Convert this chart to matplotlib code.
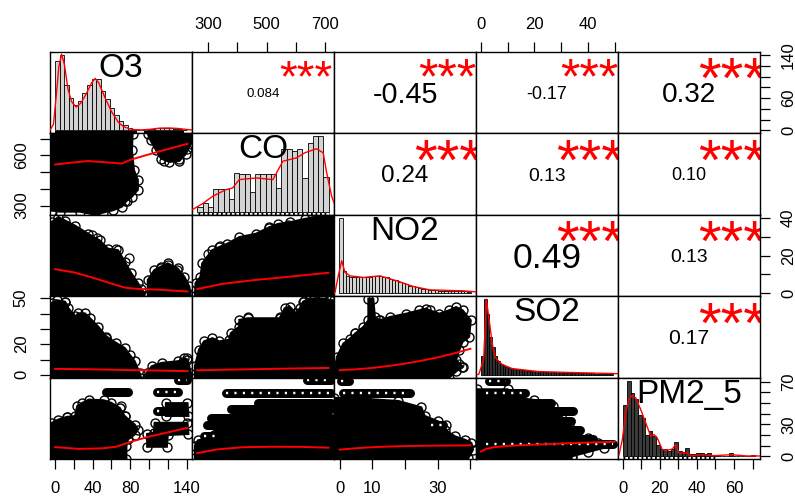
import numpy as np
import matplotlib
matplotlib.use("Agg")
import matplotlib.pyplot as plt
from matplotlib.textpath import TextPath
from matplotlib.font_manager import FontProperties
import matplotlib.transforms as mtransforms

FONT = "Liberation Sans"
plt.rcParams['font.family'] = [FONT, 'DejaVu Sans']

# ---------------- data ----------------
variables = ["O3", "CO", "NO2", "SO2", "PM2_5"]
# pairs axis ranges (data units incl. R padding)
lim_o3 = (-5.5, 145.8)
lim_co = (245, 731)
lim_no2 = (-1.7, 41.7)
lim_so2 = (-1.8, 51.3)
lim_pm = (-2.5, 74.0)

# correlations (upper panels)
corr_rows = [0, 0, 0, 0, 1, 1, 1, 2, 2, 3]
corr_cols = [1, 2, 3, 4, 2, 3, 4, 3, 4, 4]
corr_values = [0.084, -0.45, -0.17, 0.32, 0.24, 0.13, 0.10, 0.49, 0.13, 0.17]
corr_labels = ["0.084", "-0.45", "-0.17", "0.32", "0.24", "0.13", "0.10", "0.49", "0.13", "0.17"]
corr_signif = ["***"] * 10

# histograms (relative density, tallest bar = 1)
o3_hist_start, o3_hist_width = 0, 5
o3_hist = [0.92, 1.00, 0.60, 0.43, 0.34, 0.39, 0.49, 0.60, 0.68, 0.68, 0.52, 0.42, 0.30, 0.20,
           0.12, 0.07, 0.03, 0.01, 0.005, 0.005, 0.01, 0.02, 0.03, 0.035, 0.03, 0.03, 0.025, 0.02, 0.01]
o3_dens_x = [-6, -2, 1, 4, 7, 10, 14, 18, 23, 28, 34, 40, 44, 48, 55, 62, 70, 76, 85, 95, 105, 115, 125, 135, 145, 152]
o3_dens_y = [0.0, 0.08, 0.45, 0.85, 1.01, 0.88, 0.55, 0.38, 0.31, 0.36, 0.48, 0.63, 0.69, 0.63, 0.43, 0.25,
             0.10, 0.045, 0.012, 0.006, 0.015, 0.03, 0.032, 0.026, 0.012, 0.004]
o3_rug = [(0, 90), (98, 142)]

co_hist_start, co_hist_width = 262, 18
co_hist = [0.067, 0.116, 0.07, 0.303, 0.303, 0.303, 0.173, 0.516, 0.503, 0.503, 0.257, 0.503, 0.503,
           0.503, 0.503, 0.316, 0.827, 0.827, 0.804, 0.827, 0.449, 0.907, 1.0, 1.0, 0.457]
co_dens_x = [234, 280, 314, 360, 383, 406, 464, 521, 555, 602, 630, 670, 693, 705, 722, 739]
co_dens_y = [0.004, 0.107, 0.204, 0.293, 0.316, 0.427, 0.449, 0.427, 0.671, 0.716, 0.783, 0.836,
             0.783, 0.516, 0.204, 0.027]
co_rug = [(263, 712)]

no2_hist_start, no2_hist_width = 0, 1
no2_hist = [1.0, 0.30, 0.23, 0.22, 0.21, 0.21, 0.21, 0.21, 0.22, 0.22, 0.23, 0.23, 0.23, 0.22, 0.21,
            0.19, 0.18, 0.17, 0.15, 0.13, 0.12, 0.10, 0.09, 0.08, 0.065, 0.055, 0.05, 0.045, 0.04,
            0.038, 0.035, 0.033, 0.032, 0.03, 0.03, 0.03, 0.028, 0.026, 0.024, 0.02]
no2_dens_x = [-1.6, -1.3, -0.3, 0.74, 1.75, 3.3, 7.3, 12.4, 17.5, 22.5, 27.6, 37.7, 41.8]
no2_dens_y = [0.0, 0.009, 0.23, 0.43, 0.276, 0.23, 0.209, 0.23, 0.164, 0.089, 0.044, 0.031, 0.017]

so2_hist_start, so2_hist_width = 0, 1
so2_hist = [0.25, 1.0, 0.80, 0.50, 0.36, 0.24, 0.18, 0.14, 0.12, 0.10, 0.09, 0.08, 0.075, 0.07, 0.065,
            0.06, 0.055, 0.05, 0.048, 0.045, 0.042, 0.04, 0.038, 0.036, 0.034, 0.032, 0.03, 0.029,
            0.028, 0.027, 0.026, 0.025, 0.024, 0.023, 0.022, 0.021, 0.02, 0.019, 0.018, 0.017, 0.016,
            0.015, 0.014, 0.013, 0.012, 0.012, 0.011, 0.01, 0.01]
so2_dens_x = [-1.5, -0.9, 0.9, 1.9, 3.4, 4.0, 5.2, 7.7, 11.5, 21.4, 33.8, 50.0, 52]
so2_dens_y = [0.0, 0.004, 0.204, 1.0, 0.60, 0.427, 0.227, 0.137, 0.08, 0.04, 0.027, 0.013, 0.01]

pm_hist_start, pm_hist_width = 0, 2
pm_hist = [0.68, 1.0, 0.83, 0.75, 0.55, 0.50, 0.28, 0.33, 0.26, 0.15, 0.09, 0.09, 0.07, 0.09, 0.19,
           0.06, 0.05, 0.10, 0.03, 0.02, 0.04, 0.035, 0.02, 0.035, 0.01, 0.01, 0.005, 0.005, 0.005,
           0.04, 0.005, 0.0, 0.0, 0.0, 0.0, 0.01]
pm_dens_x = [-2.3, -0.5, 1.3, 3.1, 4.95, 6.8, 9.55, 12.3, 15.0, 16.8, 18.6, 21.4, 24.1, 26.9, 28.7,
             30.5, 35.1, 36.9, 42.4, 49.7, 58.8, 67.9, 75]
pm_dens_y = [0.017, 0.217, 0.573, 0.751, 0.804, 0.773, 0.617, 0.44, 0.263, 0.284, 0.24, 0.084, 0.076,
             0.093, 0.151, 0.04, 0.04, 0.0, 0.017, 0.004, 0.017, 0.0, 0.0]
pm_rug = [(0, 50)]

# scatter clouds (outline of the dense point cloud), loose points and lowess lines
co_o3_blob1_x = [-3.5, 82.5, 81.8, 83.9, 88.1, 88.1, 81.8, 76.2, 70.9, 61.4, 50.8, 42.3, 26.5, 5.3, -3.5]
co_o3_blob1_y = [730, 730, 630, 512, 453, 394, 354, 329, 293, 272, 258, 246, 264, 264, 270]
co_o3_blob2_x = [98.7, 101.6, 107.6, 112.9, 121.7, 132.3, 139.4, 144.7, 144.7]
co_o3_blob2_y = [728, 689, 630, 581, 561, 567, 610, 669, 730]
co_o3_pts_x = [74, 132, 140, 116]
co_o3_pts_y = [325, 581, 640, 565]
co_o3_smooth_x = [0, 15, 35, 55, 71, 81, 110, 141]
co_o3_smooth_y = [545, 555, 566, 558, 551, 575, 622, 669]

no2_o3_blob1_x = [-3.5, -3.5, 3.5, 10.6, 21.2, 35.1, 47.6, 56.4, 67.0, 74.1, 81.1, 88.2, 91.7, 95.2, 95.2]
no2_o3_blob1_y = [-1.8, 38, 40.5, 38.6, 35.9, 31.6, 28.0, 23.6, 22.8, 16.7, 10.5, 5.3, 2.1, -0.1, -1.8]
no2_o3_blob2_x = [98.7, 98.7, 105.8, 112.9, 120, 130.5, 137.6, 142.9, 144.7]
no2_o3_blob2_y = [-1.8, 7.0, 12.3, 14.1, 15.8, 13.1, 8.7, 3.5, -1.8]
no2_o3_pts_x = [38.8, 44.1, 65.1, 78.4, 112.9, 120.0, 130]
no2_o3_pts_y = [30.9, 29.1, 23.6, 18.6, 13.5, 15.0, 12.5]
no2_o3_smooth_x = [0, 20, 40, 60, 75, 90, 110, 141]
no2_o3_smooth_y = [12.7, 11.0, 8.2, 5.0, 2.8, 2.1, 1.8, 0.8]

so2_o3_blob1_x = [-3.5, -3.5, 1.8, 10.6, 14.1, 21.2, 24.7, 31.7, 37.0, 45.8, 54.7, 65.3, 74.1, 79.4, 84.7, 89.9, 91.7]
so2_o3_blob1_y = [-2, 47, 48.7, 47.7, 43.4, 38.1, 40.1, 40.1, 37.0, 31.5, 25.0, 20.7, 17.5, 13.1, 8.9, 1.3, -2]
so2_o3_blob2_x = [97.6, 97.6, 102.9, 113.5, 131.2, 137.6, 141.0, 144.7, 144.7]
so2_o3_blob2_y = [-2, 1.3, 5.6, 7.8, 8.9, 11.0, 9.9, 1.3, -2]
so2_o3_pts_x = [10.6, 54.7, 141]
so2_o3_pts_y = [47.7, 24.0, 11.0]
so2_o3_smooth_x = [0, 40, 80, 110, 141]
so2_o3_smooth_y = [3.9, 3.6, 3.1, 2.8, 2.4]

pm_o3_blob1_x = [-3.5, -3.5, 3.5, 12.4, 21.2, 23.5, 28.9, 35.8, 51.6, 60.0, 68.8, 74.1, 84.7, 88.2, 84.7, 77.6, 75.9, 75.9]
pm_o3_blob1_y = [-2.2, 31.5, 34.6, 37.1, 37.8, 47.1, 50.2, 53.3, 52.7, 50.2, 45.5, 37.8, 29.9, 25.2, 20.5, 15.9, 9.7, -2.2]
pm_o3_blob2_x = [98, 98, 105, 106, 141, 142, 120, 119]
pm_o3_blob2_y = [9, 21, 22, 31.5, 31.5, 21, 20, 9]
pm_o3_blob3_x = [118, 118, 141, 142]
pm_o3_blob3_y = [38, 50, 50, 38]
pm_o3_band_y = [60, 60, 43, 71.4]
pm_o3_band_x0 = [54, 109, 108, 131]
pm_o3_band_x1 = [78, 131, 117, 140]
pm_o3_pts_x = [12.4, 70.6, 74]
pm_o3_pts_y = [37.1, 47.1, 37.8]
pm_o3_smooth_x = [0, 25, 50, 65, 80, 100, 120, 141]
pm_o3_smooth_y = [8.7, 7.0, 7.5, 9.0, 13.5, 18.5, 22.5, 26.8]

no2_co_blob_x = [255, 257, 274, 280, 314, 338, 366, 407, 464, 510, 539, 579, 631, 671, 731, 731]
no2_co_blob_y = [-1.7, 5.3, 8.7, 15.8, 22.8, 24.5, 26.3, 29.8, 31.6, 35.1, 36.8, 37.7, 39.5, 40.7, 41.7, -1.7]
no2_co_pts_x = [510, 573, 300, 340]
no2_co_pts_y = [34.6, 36.0, 21, 25]
no2_co_smooth_x = [263, 350, 465, 579, 712]
no2_co_smooth_y = [2.1, 4.9, 7.0, 8.7, 10.8]

so2_co_blob_x = [255, 255, 269, 286, 315, 338, 372, 378, 407, 407, 436, 545, 562, 579, 602, 614, 625, 648, 694, 717, 731, 731]
so2_co_blob_y = [-1.8, 5.6, 16.4, 21.8, 23.9, 21.8, 22.9, 27.2, 31.5, 35.8, 36.9, 36.9, 43.4, 44.5, 40.1, 43.4, 47.7, 49.8, 49.8, 48.7, 48.7, -1.8]
so2_co_pts_x = [436, 545, 630, 660, 690]
so2_co_pts_y = [38, 38, 48, 49, 49]
so2_co_smooth_x = [263, 400, 550, 712]
so2_co_smooth_y = [3.0, 3.5, 4.0, 4.5]

pm_co_blob_x = [255, 255, 265, 300, 320, 330, 380, 731, 731]
pm_co_blob_y = [-2, 10, 15, 17, 20, 28, 33, 35, -2]
pm_co_band_y = [71.4, 59.5, 50.2, 44.5, 36.5, 29.9, 19.2]
pm_co_band_x0 = [640, 362, 470, 378, 310, 296, 286]
pm_co_band_x1 = [720, 720, 720, 720, 720, 720, 330]
pm_co_smooth_x = [263, 330, 420, 520, 620, 712]
pm_co_smooth_y = [3.0, 6.5, 8.6, 9.0, 8.9, 8.1]

so2_no2_blob_x = [-1.7, -0.8, 1.2, 3.2, 4.8, 7.3, 8.8, 8.8, 10.3, 10.8, 12.3, 15.4, 20.4, 24.4, 26.5, 27.5,
                  30.5, 33.5, 35.6, 37.6, 40.1, 39.6, 37.6, 36.6, 35.6, 37.6, 35.6, 33.5]
so2_no2_blob_y = [-1.8, 11.8, 20.5, 23.7, 27.0, 31.3, 35.6, 49.6, 49.6, 37.7, 35.6, 37.7, 39.9, 42.1, 43.2, 42.1,
                  39.9, 42.1, 44.2, 42.1, 35.6, 24.8, 21.6, 16.2, 9.7, 5.4, 2.2, -1.8]
so2_no2_pts_x = [4.8, 36.5, 37.5, 12]
so2_no2_pts_y = [27, 7, 5, 36]
so2_no2_smooth_x = [0, 5, 10, 15, 20, 25, 30, 35, 40]
so2_no2_smooth_y = [3.0, 3.6, 4.5, 5.8, 7.3, 9.2, 11.4, 14.0, 17.0]

pm_no2_blob_x = [-1.7, -1.7, 8, 18, 25, 26, 30, 32.5, 32.3, 35.3, 38.3, 40.3, 40.8, 39.3]
pm_no2_blob_y = [-2, 55, 54, 52, 46, 38, 33, 29, 25, 18.7, 15.6, 12.5, 6.3, -2]
pm_no2_band_y = [70.7, 59.2, 29.6]
pm_no2_band_x0 = [0.3, 1.0, 28]
pm_no2_band_x1 = [2.8, 21.5, 31.5]
pm_no2_smooth_x = [0, 5, 10, 18, 25, 32, 40]
pm_no2_smooth_y = [6.3, 7.6, 8.6, 9.5, 9.9, 10.1, 10.3]

pm_so2_blob_x = [-1.5, -1.5, 10, 13, 20, 27, 30, 33, 36, 40, 44, 46, 40, 34, 34]
pm_so2_blob_y = [-2, 63, 63, 55, 53, 47, 38, 30, 22, 17, 13, 8, 4, 0, -2]
pm_so2_band_y = [70.5, 59.5, 50.2, 42.4, 33.1, 25.2, 15.9, 11.2]
pm_so2_band_x0 = [3.2, 2, 2, 2, 2, 2, 2, 2]
pm_so2_band_x1 = [9.6, 16.5, 26.2, 34.5, 33.7, 37.0, 42.0, 49.4]
pm_so2_smooth_x = [0, 2, 5, 10, 20, 30, 40, 50]
pm_so2_smooth_y = [4.5, 7.0, 8.6, 9.8, 11.0, 12.0, 12.9, 13.6]

# axis ticks (pairs scale) and which labels are printed
o3_ticks = [0, 20, 40, 60, 80, 100, 120, 140]
co_ticks = [300, 400, 500, 600, 700]
no2_ticks = [0, 10, 20, 30, 40]
so2_ticks = [0, 10, 20, 30, 40, 50]
pm_ticks = [0, 10, 20, 30, 40, 50, 60, 70]
top_axis_labels = {1: ["300", "", "500", "", "700"], 3: ["0", "", "20", "", "40", ""]}
bottom_axis_labels = {0: ["0", "", "40", "", "80", "", "", "140"], 2: ["0", "10", "", "30", ""],
                      4: ["0", "", "20", "", "40", "", "60", ""]}
left_axis_labels = {1: ["300", "", "", "600", ""], 3: ["0", "", "20", "", "", "50"]}
right_axis_labels = {0: ["0", "", "", "60", "", "", "", "140"], 2: ["0", "", "20", "", "40"],
                     4: ["0", "", "", "30", "", "", "", "70"]}

# ---------------- assemble ----------------
lims = [lim_o3, lim_co, lim_no2, lim_so2, lim_pm]
ticks = [o3_ticks, co_ticks, no2_ticks, so2_ticks, pm_ticks]
hists = [
    (o3_hist_start, o3_hist_width, o3_hist, o3_dens_x, o3_dens_y, o3_rug, 'solid'),
    (co_hist_start, co_hist_width, co_hist, co_dens_x, co_dens_y, co_rug, 'dotted'),
    (no2_hist_start, no2_hist_width, no2_hist, no2_dens_x, no2_dens_y, [], None),
    (so2_hist_start, so2_hist_width, so2_hist, so2_dens_x, so2_dens_y, [], None),
    (pm_hist_start, pm_hist_width, pm_hist, pm_dens_x, pm_dens_y, pm_rug, 'dotted'),
]
# narrow bins in the reference render almost black
hist_face = ['#D3D3D3', '#D3D3D3', '#D3D3D3', '#303030', '#3a3a3a']
lower = {
    (1, 0): dict(blobs=[(co_o3_blob1_x, co_o3_blob1_y), (co_o3_blob2_x, co_o3_blob2_y)],
                 bands=None, pts=(co_o3_pts_x, co_o3_pts_y), smooth=(co_o3_smooth_x, co_o3_smooth_y)),
    (2, 0): dict(blobs=[(no2_o3_blob1_x, no2_o3_blob1_y), (no2_o3_blob2_x, no2_o3_blob2_y)],
                 bands=None, pts=(no2_o3_pts_x, no2_o3_pts_y), smooth=(no2_o3_smooth_x, no2_o3_smooth_y)),
    (3, 0): dict(blobs=[(so2_o3_blob1_x, so2_o3_blob1_y), (so2_o3_blob2_x, so2_o3_blob2_y)],
                 bands=None, pts=(so2_o3_pts_x, so2_o3_pts_y), smooth=(so2_o3_smooth_x, so2_o3_smooth_y)),
    (4, 0): dict(blobs=[(pm_o3_blob1_x, pm_o3_blob1_y), (pm_o3_blob2_x, pm_o3_blob2_y),
                        (pm_o3_blob3_x, pm_o3_blob3_y)],
                 bands=(pm_o3_band_y, pm_o3_band_x0, pm_o3_band_x1, [False, True, True, True]),
                 pts=(pm_o3_pts_x, pm_o3_pts_y), smooth=(pm_o3_smooth_x, pm_o3_smooth_y)),
    (2, 1): dict(blobs=[(no2_co_blob_x, no2_co_blob_y)], bands=None,
                 pts=(no2_co_pts_x, no2_co_pts_y), smooth=(no2_co_smooth_x, no2_co_smooth_y)),
    (3, 1): dict(blobs=[(so2_co_blob_x, so2_co_blob_y)], bands=None,
                 pts=(so2_co_pts_x, so2_co_pts_y), smooth=(so2_co_smooth_x, so2_co_smooth_y)),
    (4, 1): dict(blobs=[(pm_co_blob_x, pm_co_blob_y)],
                 bands=(pm_co_band_y, pm_co_band_x0, pm_co_band_x1, [True, True, False, False, False, False, True]),
                 pts=None, smooth=(pm_co_smooth_x, pm_co_smooth_y)),
    (3, 2): dict(blobs=[(so2_no2_blob_x, so2_no2_blob_y)], bands=None,
                 pts=(so2_no2_pts_x, so2_no2_pts_y), smooth=(so2_no2_smooth_x, so2_no2_smooth_y)),
    (4, 2): dict(blobs=[(pm_no2_blob_x, pm_no2_blob_y)],
                 bands=(pm_no2_band_y, pm_no2_band_x0, pm_no2_band_x1, [True, True, True]),
                 pts=None, smooth=(pm_no2_smooth_x, pm_no2_smooth_y)),
    (4, 3): dict(blobs=[(pm_so2_blob_x, pm_so2_blob_y)],
                 bands=(pm_so2_band_y, pm_so2_band_x0, pm_so2_band_x1,
                        [True, True, False, False, False, False, False, True]),
                 pts=None, smooth=(pm_so2_smooth_x, pm_so2_smooth_y)),
}

W_PX, H_PX, DPI = 795, 497, 100
fig = plt.figure(figsize=(W_PX / DPI, H_PX / DPI), dpi=DPI)
L, R, T, B = 50, 760, 52, 459
pw = (R - L) / 5.0
ph = (B - T) / 5.0
PX = 72.0 / DPI  # points per pixel

def rect(i, j):
    x0 = L + j * pw
    y1 = T + (i + 1) * ph
    return [x0 / W_PX, 1 - y1 / H_PX, pw / W_PX, ph / H_PX]

renderer = fig.canvas.get_renderer()
fp = FontProperties(family=FONT)

def adv_width_px(s, fs):
    t = fig.text(0, 0, s, fontsize=fs, fontproperties=fp)
    w = t.get_window_extent(renderer).width
    t.remove()
    return w

def ink_center_pt(s, fs):
    ext = TextPath((0, 0), s, size=fs, prop=fp).get_extents()
    return (ext.y0 + ext.y1) / 2.0

def centered_text(ax, x, y, s, fs, color='black', center_on=None, clip=False):
    cy = ink_center_pt(center_on if center_on else s, fs)
    tr = ax.transAxes + mtransforms.ScaledTranslation(0, -cy / 72.0, fig.dpi_scale_trans)
    ax.text(x, y, s, fontsize=fs, color=color, ha='center', va='baseline', transform=tr,
            fontproperties=fp, clip_on=clip, zorder=10)

axes = {}
for i in range(5):
    for j in range(5):
        ax = fig.add_axes(rect(i, j))
        ax.set_xlim(lims[j])
        ax.set_ylim(lims[i])
        ax.set_xticks([])
        ax.set_yticks([])
        for sp in ax.spines.values():
            sp.set_linewidth(1.0)
            sp.set_zorder(20)
        axes[(i, j)] = ax

tick_kw = dict(length=10 * PX, width=0.9, labelsize=12, direction='out', colors='black')
for j, labs in top_axis_labels.items():
    ax = axes[(0, j)]
    ax.set_xticks(ticks[j])
    ax.set_xticklabels(labs)
    ax.tick_params(axis='x', top=True, bottom=False, labeltop=True, labelbottom=False, pad=7.5, **tick_kw)
for j, labs in bottom_axis_labels.items():
    ax = axes[(4, j)]
    ax.set_xticks(ticks[j])
    ax.set_xticklabels(labs)
    ax.tick_params(axis='x', top=False, bottom=True, labeltop=False, labelbottom=True, pad=8.5, **tick_kw)
for i, labs in left_axis_labels.items():
    ax = axes[(i, 0)]
    ax.set_yticks(ticks[i])
    ax.set_yticklabels(labs, rotation=90, va='center', ha='right')
    ax.tick_params(axis='y', left=True, right=False, labelleft=True, labelright=False, pad=8.0, **tick_kw)
for i, labs in right_axis_labels.items():
    ax = axes[(i, 4)]
    ax.set_yticks(ticks[i])
    ax.set_yticklabels(labs, rotation=90, va='center', ha='left')
    ax.tick_params(axis='y', left=False, right=True, labelleft=False, labelright=True, pad=8.0, **tick_kw)

# lower panels: scatter clouds + lowess
BAND_LW = 9 * PX
for (i, j), d in lower.items():
    ax = axes[(i, j)]
    for bx, by in d['blobs']:
        ax.fill(bx, by, facecolor='black', edgecolor='black', linewidth=1.5, zorder=2)
        # open circles on the cloud outline give the bumpy edge of overlapping points
        ax.plot(bx, by, 'o', mfc='none', mec='black', ms=9 * PX, mew=1.0, zorder=2.5)
    if d['bands'] is not None:
        by, bx0, bx1, ring = d['bands']
        for yv, a, b, rg in zip(by, bx0, bx1, ring):
            ax.plot([a, b], [yv, yv], color='black', lw=BAND_LW, solid_capstyle='round', zorder=3)
            if rg:
                ax.plot([a, b], [yv, yv], color='white', lw=2.4 * PX, dashes=(0.9, 2.6), zorder=3.5)
    if d['pts'] is not None:
        ax.plot(d['pts'][0], d['pts'][1], 'o', mfc='none', mec='black', ms=9 * PX, mew=0.9, zorder=4)
    ax.plot(d['smooth'][0], d['smooth'][1], color='red', lw=1.4, zorder=6)

# diagonal: histograms + density + rug + labels
name_fs = 24
for k, (start, width, heights, dx, dy, rug, rugstyle) in enumerate(hists):
    ov = fig.add_axes(rect(k, k), frameon=False)
    ov.set_xticks([]); ov.set_yticks([])
    b0 = start
    b1 = start + width * len(heights)
    M = max(heights)
    ov.set_xlim(b0 - 0.04 * (b1 - b0), b1 + 0.04 * (b1 - b0))
    ov.set_ylim(-0.04 * M, 1.04 * M)
    lefts = [start + width * n for n in range(len(heights))]
    ov.bar(lefts, heights, width=width, align='edge', color=hist_face[k], edgecolor='black',
           linewidth=0.6, zorder=2)
    ov.plot(dx, dy, color='red', lw=1.0, zorder=4)
    ybot = -0.04 * M
    ytop = ybot + 0.03 * 1.08 * M
    for (r0, r1) in rug:
        if rugstyle == 'solid':
            ov.fill_between([r0, r1], [ybot, ybot], [ytop, ytop], color='black', lw=0, zorder=3)
        else:
            ov.plot([r0, r1], [(ybot + ytop) / 2] * 2, color='black', lw=3 * PX, dashes=(0.6, 0.9), zorder=3)
    centered_text(ov, 0.5, 0.8333, variables[k], name_fs, center_on="H")

# upper panels: correlation values + significance stars
for r_i, c_j, val, lab, sig in zip(corr_rows, corr_cols, corr_values, corr_labels, corr_signif):
    ax = axes[(r_i, c_j)]
    w100 = adv_width_px(lab, 100)
    base_fs = 100 * (0.8 * pw) / w100
    num_fs = base_fs * (abs(val) + 0.3) / 1.3
    centered_text(ax, 0.5, 0.5, lab, num_fs, center_on="0")
    centered_text(ax, 0.8, 0.8, sig, base_fs, color='red', clip=True)

fig.savefig("out.png", dpi=DPI)
